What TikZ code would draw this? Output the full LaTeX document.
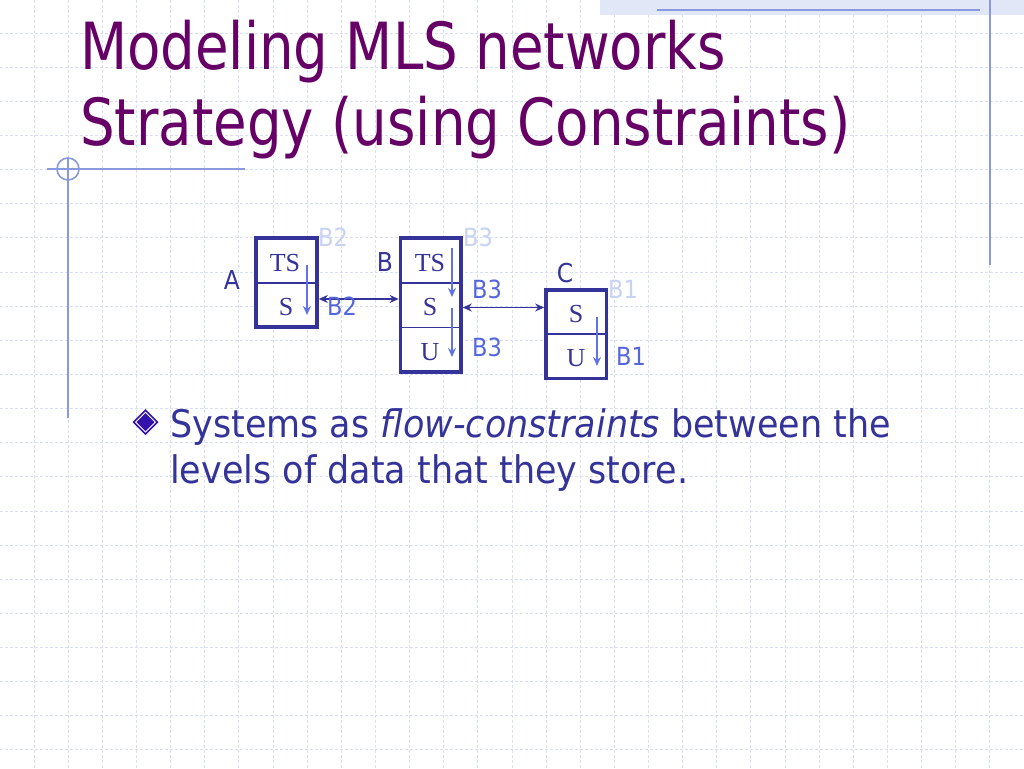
\documentclass[tikz,border=0pt]{standalone}
\usepackage{fontspec}
\setmainfont{DejaVu Sans}[FakeStretch=0.9]
\newfontfamily\titlefont{DejaVu Sans}[FakeStretch=0.84]
\newfontfamily\bodyfont{DejaVu Sans}[FakeStretch=0.92]
\newfontfamily\tms{Liberation Serif}
\usetikzlibrary{arrows.meta}
\definecolor{titlec}{HTML}{660066}
\definecolor{bodyc}{HTML}{333399}
\definecolor{gridc}{HTML}{D9DFF2}
\definecolor{decoc}{HTML}{8899DD}
\definecolor{bandc}{HTML}{E2E7F8}
\definecolor{flowc}{HTML}{5F73E6}
\definecolor{labc}{HTML}{5566DD}
\definecolor{palec}{HTML}{C8D2F2}
\definecolor{bulc}{HTML}{3311AA}
\tikzset{
  gridline/.style={draw=gridc, line width=0.9pt, dash pattern=on 3pt off 2pt},
  deco/.style={draw=decoc, line width=1.6pt},
  sysbox/.style={draw=bodyc, line width=3.6pt, inner sep=0pt, fill=white},
  divider/.style={draw=bodyc, line width=1.8pt},
  flow/.style={draw=flowc, line width=2.8pt, -{Stealth[length=9pt,width=8pt]}},
  link/.style={draw=bodyc, line width=1.7pt, {Stealth[length=9pt,width=8pt]}-{Stealth[length=9pt,width=8pt]}},
  lvl/.style={inner sep=0pt, anchor=base, font=\tms\fontsize{26}{26}\selectfont, text=bodyc},
  sysname/.style={inner sep=0pt, anchor=base, font=\fontsize{26}{26}\selectfont, text=bodyc},
  blab/.style={inner sep=0pt, anchor=base, font=\fontsize{25}{25}\selectfont, text=labc},
  plab/.style={inner sep=0pt, anchor=base, font=\fontsize{25}{25}\selectfont, text=palec},
  titletext/.style={inner sep=0pt, anchor=base west, font=\titlefont\fontsize{65}{65}\selectfont, text=titlec},
  bodytext/.style={inner sep=0pt, anchor=base west, font=\bodyfont\fontsize{38}{38}\selectfont, text=bodyc}
}
\begin{document}
\begin{tikzpicture}[x=1pt,y=-1pt]
\useasboundingbox (0,0) rectangle (1024,768);
\fill[white] (0,0) rectangle (1024,768);
% grid
\foreach \k in {1,...,29} \draw[gridline] (\k*34.133,0) -- (\k*34.133,768);
\foreach \k in {1,...,22} \draw[gridline] (0,\k*34.133-1) -- (1024,\k*34.133-1);
% decorations
\fill[bandc] (600,0) rectangle (1024,15);
\draw[deco] (657,10) -- (980,10);
\draw[deco] (990,0) -- (990,265);
\draw[deco] (47,169) -- (245,169);
\draw[deco] (68,169) circle[radius=11pt];
\draw[deco] (68,158) -- (68,418);
% title
\node[titletext] (t1) at (80,70) {Modeling MLS networks};
\node[titletext] (t2) at (80,145) {Strategy (using Constraints)};
% boxes
\node[sysbox, minimum width=61pt, minimum height=89pt] (boxA) at (286.5,282.5) {};
\node[sysbox, minimum width=60.5pt, minimum height=134pt] (boxB) at (430.7,305) {};
\node[sysbox, minimum width=60.5pt, minimum height=88.5pt] (boxC) at (576.2,334.2) {};
\coordinate (dA) at (0,283);
\coordinate (dB1) at (0,283);
\coordinate (dB2) at (0,327.5);
\coordinate (dC) at (0,334);
\draw[divider] (boxA.west |- dA) -- (boxA.east |- dA);
\draw[divider] (boxB.west |- dB1) -- (boxB.east |- dB1);
\draw[divider] (boxB.west |- dB2) -- (boxB.east |- dB2);
\draw[divider] (boxC.west |- dC) -- (boxC.east |- dC);
% levels
\node[lvl] (aTS) at (285,271.5) {TS};
\node[lvl] (aS) at (286,315.5) {S};
\node[lvl] (bTS) at (430,271.5) {TS};
\node[lvl] (bS) at (430,315.5) {S};
\node[lvl] (bU) at (430,360) {U};
\node[lvl] (cS) at (576,322.5) {S};
\node[lvl] (cU) at (576,366.5) {U};
% flows inside boxes
\draw[flow] (307,265) -- (307,315);
\draw[flow] (452,248) -- (452,297);
\draw[flow] (452,308) -- (452,357);
\draw[flow] (597,317) -- (597,366);
% links
\coordinate (yAB) at (0,299);
\coordinate (yBC) at (0,307.5);
\draw[link] (boxA.east |- yAB) -- (boxB.west |- yAB);
\draw[link] (boxB.east |- yBC) -- (boxC.west |- yBC);
% system names
\node[sysname] (nA) at (232,289) {A};
\node[sysname] (nB) at (385,271.5) {B};
\node[sysname] (nC) at (565,282) {C};
% labels
\node[plab] (pB2) at (333,246.5) {B2};
\node[blab] (lB2) at (342,315.5) {B2};
\node[plab] (pB3) at (478,246) {B3};
\node[blab] (lB3a) at (487,298) {B3};
\node[blab] (lB3b) at (487,356.5) {B3};
\node[plab] (pB1) at (623,298) {B1};
\node[blab] (lB1) at (631,365.5) {B1};
% bullet
\fill[bulc] (145.5,409) -- (158.5,422) -- (145.5,435) -- (132.5,422) -- cycle;
\fill[white] (145.5,411.5) -- (156,422) -- (145.5,432.5) -- (135,422) -- cycle;
\fill[bulc] (145.5,413) -- (154.5,422) -- (145.5,431) -- (136.5,422) -- cycle;
\node[bodytext] (l1) at (170,437) {Systems as \textit{flow-constraints} between the};
\node[bodytext] (l2) at (170,483) {levels of data that they store.};
\end{tikzpicture}
\end{document}
